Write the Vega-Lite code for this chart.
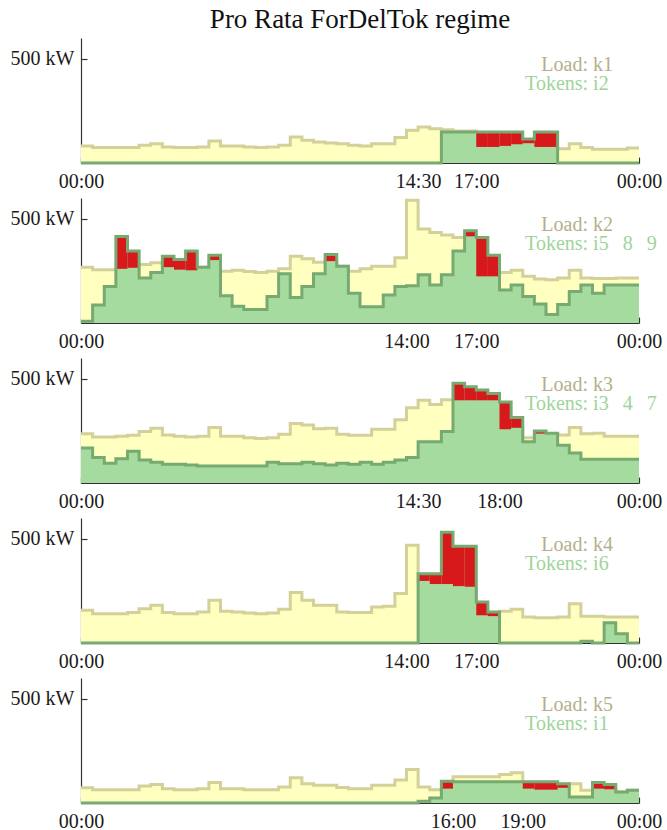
{
  "$schema": "https://vega.github.io/schema/vega-lite/v6.json",
  "padding": {"left": 10, "right": 4, "top": 6, "bottom": 4},
  "background": "white",
  "config": {
    "font": "Liberation Serif",
    "view": {"stroke": null},
    "axis": {"grid": false, "zindex": 1, "labelFont": "Liberation Serif", "labelFontSize": 20, "labelColor": "#1a1a1a", "domainColor": "#333333", "tickColor": "#333333", "tickSize": -6, "labelPadding": 14, "domainWidth": 1.2, "tickWidth": 1.2},
    "axisY": {"labelPadding": 13},
    "title": {"font": "Liberation Serif", "fontSize": 27, "fontWeight": "normal", "color": "#111111", "offset": 4}
  },
  "datasets": {
    "p1": [
      {"hour":0,"end":0.5,"load":82,"tokens":0},{"hour":0.5,"end":1,"load":74,"tokens":0},{"hour":1,"end":1.5,"load":74,"tokens":0},{"hour":1.5,"end":2,"load":74,"tokens":0},
      {"hour":2,"end":2.5,"load":74,"tokens":0},{"hour":2.5,"end":3,"load":85,"tokens":0},{"hour":3,"end":3.5,"load":93,"tokens":0},{"hour":3.5,"end":4,"load":77,"tokens":0},
      {"hour":4,"end":4.5,"load":74,"tokens":0},{"hour":4.5,"end":5,"load":74,"tokens":0},{"hour":5,"end":5.5,"load":77,"tokens":0},{"hour":5.5,"end":6,"load":106,"tokens":0},
      {"hour":6,"end":6.5,"load":82,"tokens":0},{"hour":6.5,"end":7,"load":82,"tokens":0},{"hour":7,"end":7.5,"load":77,"tokens":0},{"hour":7.5,"end":8,"load":74,"tokens":0},
      {"hour":8,"end":8.5,"load":77,"tokens":0},{"hour":8.5,"end":9,"load":85,"tokens":0},{"hour":9,"end":9.5,"load":125,"tokens":0},{"hour":9.5,"end":10,"load":109,"tokens":0},
      {"hour":10,"end":10.5,"load":101,"tokens":0},{"hour":10.5,"end":11,"load":96,"tokens":0},{"hour":11,"end":11.5,"load":93,"tokens":0},{"hour":11.5,"end":12,"load":85,"tokens":0},
      {"hour":12,"end":12.5,"load":82,"tokens":0},{"hour":12.5,"end":13,"load":93,"tokens":0},{"hour":13,"end":13.5,"load":93,"tokens":0},{"hour":13.5,"end":14,"load":122,"tokens":0},
      {"hour":14,"end":14.5,"load":157,"tokens":0},{"hour":14.5,"end":15,"load":173,"tokens":0},{"hour":15,"end":15.5,"load":165,"tokens":0},{"hour":15.5,"end":16,"load":160,"tokens":149},
      {"hour":16,"end":16.5,"load":154,"tokens":149},{"hour":16.5,"end":17,"load":154,"tokens":149},{"hour":17,"end":17.5,"load":77,"tokens":149},{"hour":17.5,"end":18,"load":77,"tokens":149},
      {"hour":18,"end":18.5,"load":82,"tokens":149},{"hour":18.5,"end":19,"load":90,"tokens":149},{"hour":19,"end":19.5,"load":95,"tokens":115},{"hour":19.5,"end":20,"load":77,"tokens":149},
      {"hour":20,"end":20.5,"load":77,"tokens":149},{"hour":20.5,"end":21,"load":69,"tokens":0},{"hour":21,"end":21.5,"load":93,"tokens":0},{"hour":21.5,"end":22,"load":74,"tokens":0},
      {"hour":22,"end":22.5,"load":66,"tokens":0},{"hour":22.5,"end":23,"load":66,"tokens":0},{"hour":23,"end":23.5,"load":66,"tokens":0},{"hour":23.5,"end":24,"load":72,"tokens":0},
      {"hour":24,"end":24,"load":72,"tokens":0}
    ],
    "p2": [
      {"hour":0,"end":0.5,"load":268,"tokens":8},{"hour":0.5,"end":1,"load":256,"tokens":86},{"hour":1,"end":1.5,"load":256,"tokens":175},{"hour":1.5,"end":2,"load":260,"tokens":415},
      {"hour":2,"end":2.5,"load":265,"tokens":346},{"hour":2.5,"end":3,"load":281,"tokens":216},{"hour":3,"end":3.5,"load":289,"tokens":243},{"hour":3.5,"end":4,"load":268,"tokens":321},
      {"hour":4,"end":4.5,"load":256,"tokens":305},{"hour":4.5,"end":5,"load":253,"tokens":346},{"hour":5,"end":5.5,"load":268,"tokens":268},{"hour":5.5,"end":6,"load":302,"tokens":325},
      {"hour":6,"end":6.5,"load":248,"tokens":131},{"hour":6.5,"end":7,"load":253,"tokens":81},{"hour":7,"end":7.5,"load":247,"tokens":65},{"hour":7.5,"end":8,"load":243,"tokens":65},
      {"hour":8,"end":8.5,"load":248,"tokens":127},{"hour":8.5,"end":9,"load":260,"tokens":237},{"hour":9,"end":9.5,"load":321,"tokens":122},{"hour":9.5,"end":10,"load":308,"tokens":175},
      {"hour":10,"end":10.5,"load":292,"tokens":237},{"hour":10.5,"end":11,"load":297,"tokens":329},{"hour":11,"end":11.5,"load":273,"tokens":273},{"hour":11.5,"end":12,"load":248,"tokens":143},
      {"hour":12,"end":12.5,"load":260,"tokens":78},{"hour":12.5,"end":13,"load":273,"tokens":78},{"hour":13,"end":13.5,"load":273,"tokens":135},{"hour":13.5,"end":14,"load":313,"tokens":175},
      {"hour":14,"end":14.5,"load":589,"tokens":179},{"hour":14.5,"end":15,"load":451,"tokens":232},{"hour":15,"end":15.5,"load":435,"tokens":183},{"hour":15.5,"end":16,"load":422,"tokens":232},
      {"hour":16,"end":16.5,"load":411,"tokens":346},{"hour":16.5,"end":17,"load":416,"tokens":443},{"hour":17,"end":17.5,"load":224,"tokens":411},{"hour":17.5,"end":18,"load":224,"tokens":325},
      {"hour":18,"end":18.5,"load":243,"tokens":159},{"hour":18.5,"end":19,"load":253,"tokens":183},{"hour":19,"end":19.5,"load":224,"tokens":127},{"hour":19.5,"end":20,"load":211,"tokens":91},
      {"hour":20,"end":20.5,"load":208,"tokens":41},{"hour":20.5,"end":21,"load":216,"tokens":89},{"hour":21,"end":21.5,"load":253,"tokens":151},{"hour":21.5,"end":22,"load":216,"tokens":183},
      {"hour":22,"end":22.5,"load":214,"tokens":143},{"hour":22.5,"end":23,"load":214,"tokens":183},{"hour":23,"end":23.5,"load":216,"tokens":183},{"hour":23.5,"end":24,"load":216,"tokens":183},
      {"hour":24,"end":24,"load":216,"tokens":183}
    ],
    "p3": [
      {"hour":0,"end":0.5,"load":237,"tokens":168},{"hour":0.5,"end":1,"load":221,"tokens":123},{"hour":1,"end":1.5,"load":221,"tokens":95},{"hour":1.5,"end":2,"load":225,"tokens":116},
      {"hour":2,"end":2.5,"load":229,"tokens":152},{"hour":2.5,"end":3,"load":247,"tokens":111},{"hour":3,"end":3.5,"load":263,"tokens":100},{"hour":3.5,"end":4,"load":230,"tokens":90},
      {"hour":4,"end":4.5,"load":225,"tokens":90},{"hour":4.5,"end":5,"load":221,"tokens":87},{"hour":5,"end":5.5,"load":225,"tokens":82},{"hour":5.5,"end":6,"load":266,"tokens":82},
      {"hour":6,"end":6.5,"load":225,"tokens":82},{"hour":6.5,"end":7,"load":225,"tokens":82},{"hour":7,"end":7.5,"load":217,"tokens":82},{"hour":7.5,"end":8,"load":214,"tokens":82},
      {"hour":8,"end":8.5,"load":217,"tokens":100},{"hour":8.5,"end":9,"load":234,"tokens":92},{"hour":9,"end":9.5,"load":286,"tokens":92},{"hour":9.5,"end":10,"load":278,"tokens":100},
      {"hour":10,"end":10.5,"load":261,"tokens":92},{"hour":10.5,"end":11,"load":263,"tokens":87},{"hour":11,"end":11.5,"load":234,"tokens":95},{"hour":11.5,"end":12,"load":229,"tokens":90},
      {"hour":12,"end":12.5,"load":229,"tokens":100},{"hour":12.5,"end":13,"load":258,"tokens":90},{"hour":13,"end":13.5,"load":258,"tokens":100},{"hour":13.5,"end":14,"load":304,"tokens":111},
      {"hour":14,"end":14.5,"load":361,"tokens":123},{"hour":14.5,"end":15,"load":397,"tokens":198},{"hour":15,"end":15.5,"load":377,"tokens":198},{"hour":15.5,"end":16,"load":400,"tokens":247},
      {"hour":16,"end":16.5,"load":397,"tokens":479},{"hour":16.5,"end":17,"load":397,"tokens":462},{"hour":17,"end":17.5,"load":397,"tokens":446},{"hour":17.5,"end":18,"load":397,"tokens":430},
      {"hour":18,"end":18.5,"load":258,"tokens":389},{"hour":18.5,"end":19,"load":265,"tokens":315},{"hour":19,"end":19.5,"load":217,"tokens":198},{"hour":19.5,"end":20,"load":237,"tokens":250},
      {"hour":20,"end":20.5,"load":234,"tokens":239},{"hour":20.5,"end":21,"load":230,"tokens":181},{"hour":21,"end":21.5,"load":266,"tokens":144},{"hour":21.5,"end":22,"load":237,"tokens":114},
      {"hour":22,"end":22.5,"load":239,"tokens":114},{"hour":22.5,"end":23,"load":225,"tokens":114},{"hour":23,"end":23.5,"load":225,"tokens":114},{"hour":23.5,"end":24,"load":225,"tokens":114},
      {"hour":24,"end":24,"load":225,"tokens":114}
    ],
    "p4": [
      {"hour":0,"end":0.5,"load":157,"tokens":0},{"hour":0.5,"end":1,"load":141,"tokens":0},{"hour":1,"end":1.5,"load":141,"tokens":0},{"hour":1.5,"end":2,"load":141,"tokens":0},
      {"hour":2,"end":2.5,"load":146,"tokens":0},{"hour":2.5,"end":3,"load":165,"tokens":0},{"hour":3,"end":3.5,"load":181,"tokens":0},{"hour":3.5,"end":4,"load":146,"tokens":0},
      {"hour":4,"end":4.5,"load":141,"tokens":0},{"hour":4.5,"end":5,"load":141,"tokens":0},{"hour":5,"end":5.5,"load":149,"tokens":0},{"hour":5.5,"end":6,"load":205,"tokens":0},
      {"hour":6,"end":6.5,"load":152,"tokens":0},{"hour":6.5,"end":7,"load":149,"tokens":0},{"hour":7,"end":7.5,"load":144,"tokens":0},{"hour":7.5,"end":8,"load":141,"tokens":0},
      {"hour":8,"end":8.5,"load":144,"tokens":0},{"hour":8.5,"end":9,"load":162,"tokens":0},{"hour":9,"end":9.5,"load":243,"tokens":0},{"hour":9.5,"end":10,"load":205,"tokens":0},
      {"hour":10,"end":10.5,"load":181,"tokens":0},{"hour":10.5,"end":11,"load":181,"tokens":0},{"hour":11,"end":11.5,"load":149,"tokens":0},{"hour":11.5,"end":12,"load":146,"tokens":0},
      {"hour":12,"end":12.5,"load":146,"tokens":0},{"hour":12.5,"end":13,"load":173,"tokens":0},{"hour":13,"end":13.5,"load":176,"tokens":0},{"hour":13.5,"end":14,"load":238,"tokens":0},
      {"hour":14,"end":14.5,"load":469,"tokens":0},{"hour":14.5,"end":15,"load":298,"tokens":332},{"hour":15,"end":15.5,"load":283,"tokens":332},{"hour":15.5,"end":16,"load":283,"tokens":532},
      {"hour":16,"end":16.5,"load":273,"tokens":464},{"hour":16.5,"end":17,"load":270,"tokens":464},{"hour":17,"end":17.5,"load":133,"tokens":197},{"hour":17.5,"end":18,"load":129,"tokens":149},
      {"hour":18,"end":18.5,"load":152,"tokens":0},{"hour":18.5,"end":19,"load":162,"tokens":0},{"hour":19,"end":19.5,"load":125,"tokens":0},{"hour":19.5,"end":20,"load":121,"tokens":0},
      {"hour":20,"end":20.5,"load":121,"tokens":0},{"hour":20.5,"end":21,"load":125,"tokens":0},{"hour":21,"end":21.5,"load":189,"tokens":0},{"hour":21.5,"end":22,"load":128,"tokens":8},
      {"hour":22,"end":22.5,"load":128,"tokens":0},{"hour":22.5,"end":23,"load":125,"tokens":97},{"hour":23,"end":23.5,"load":125,"tokens":44},{"hour":23.5,"end":24,"load":125,"tokens":0},
      {"hour":24,"end":24,"load":125,"tokens":0}
    ],
    "p5": [
      {"hour":0,"end":0.5,"load":73,"tokens":0},{"hour":0.5,"end":1,"load":64,"tokens":0},{"hour":1,"end":1.5,"load":64,"tokens":0},{"hour":1.5,"end":2,"load":64,"tokens":0},
      {"hour":2,"end":2.5,"load":64,"tokens":0},{"hour":2.5,"end":3,"load":82,"tokens":0},{"hour":3,"end":3.5,"load":89,"tokens":0},{"hour":3.5,"end":4,"load":69,"tokens":0},
      {"hour":4,"end":4.5,"load":64,"tokens":0},{"hour":4.5,"end":5,"load":64,"tokens":0},{"hour":5,"end":5.5,"load":69,"tokens":0},{"hour":5.5,"end":6,"load":98,"tokens":0},
      {"hour":6,"end":6.5,"load":69,"tokens":0},{"hour":6.5,"end":7,"load":69,"tokens":0},{"hour":7,"end":7.5,"load":64,"tokens":0},{"hour":7.5,"end":8,"load":64,"tokens":0},
      {"hour":8,"end":8.5,"load":64,"tokens":0},{"hour":8.5,"end":9,"load":77,"tokens":0},{"hour":9,"end":9.5,"load":121,"tokens":0},{"hour":9.5,"end":10,"load":93,"tokens":0},
      {"hour":10,"end":10.5,"load":85,"tokens":0},{"hour":10.5,"end":11,"load":85,"tokens":0},{"hour":11,"end":11.5,"load":74,"tokens":0},{"hour":11.5,"end":12,"load":69,"tokens":0},
      {"hour":12,"end":12.5,"load":69,"tokens":0},{"hour":12.5,"end":13,"load":85,"tokens":0},{"hour":13,"end":13.5,"load":85,"tokens":0},{"hour":13.5,"end":14,"load":110,"tokens":0},
      {"hour":14,"end":14.5,"load":161,"tokens":0},{"hour":14.5,"end":15,"load":77,"tokens":8},{"hour":15,"end":15.5,"load":64,"tokens":24},{"hour":15.5,"end":16,"load":69,"tokens":105},
      {"hour":16,"end":16.5,"load":126,"tokens":102},{"hour":16.5,"end":17,"load":126,"tokens":102},{"hour":17,"end":17.5,"load":126,"tokens":102},{"hour":17.5,"end":18,"load":126,"tokens":102},
      {"hour":18,"end":18.5,"load":137,"tokens":102},{"hour":18.5,"end":19,"load":145,"tokens":102},{"hour":19,"end":19.5,"load":69,"tokens":102},{"hour":19.5,"end":20,"load":64,"tokens":102},
      {"hour":20,"end":20.5,"load":64,"tokens":102},{"hour":20.5,"end":21,"load":73,"tokens":93},{"hour":21,"end":21.5,"load":93,"tokens":29},{"hour":21.5,"end":22,"load":61,"tokens":29},
      {"hour":22,"end":22.5,"load":69,"tokens":98},{"hour":22.5,"end":23,"load":66,"tokens":89},{"hour":23,"end":23.5,"load":53,"tokens":53},{"hour":23.5,"end":24,"load":61,"tokens":61},
      {"hour":24,"end":24,"load":61,"tokens":61}
    ]
  },
  "vconcat": [
    {
      "title": {"text": "Pro Rata ForDelTok regime", "anchor": "middle"},
      "width": 558, "height": 125,
      "data": {"name": "p1"},
      "layer": [
        {"mark": {"type": "area", "interpolate": "step-after", "color": "#ffffbf"},
         "encoding": {
           "x": {"field": "hour", "type": "quantitative", "title": null, "scale": {"domain": [0, 24], "nice": false, "zero": false}, "axis": {"values": [0, 14.5, 17, 24], "labelExpr": "(floor(datum.value) % 24 < 10 ? '0' : '') + (floor(datum.value) % 24) + ':' + (datum.value % 1 > 0 ? '30' : '00')", "labelFlush": false, "labelOverlap": false}},
           "y": {"field": "load", "type": "quantitative", "title": null, "scale": {"domain": [0, 600], "nice": false}, "axis": {"values": [500], "labelExpr": "datum.value + ' kW'"}}}},
        {"mark": {"type": "line", "interpolate": "step-after", "color": "#d3d09a", "strokeWidth": 3},
         "encoding": {"x": {"field": "hour", "type": "quantitative", "title": null}, "y": {"field": "load", "type": "quantitative", "title": null}}},
        {"mark": {"type": "area", "interpolate": "step-after", "color": "#a6dba0"},
         "encoding": {"x": {"field": "hour", "type": "quantitative", "title": null}, "y": {"field": "tokens", "type": "quantitative", "title": null}}},
        {"transform": [{"filter": "datum.tokens > datum.load + 6"}],
         "mark": {"type": "rect", "color": "#d7191c"},
         "encoding": {"x": {"field": "hour", "type": "quantitative", "title": null}, "x2": {"field": "end"}, "y": {"field": "load", "type": "quantitative", "title": null}, "y2": {"field": "tokens"}}},
        {"mark": {"type": "line", "interpolate": "step-after", "color": "#76aa70", "strokeWidth": 3},
         "encoding": {"x": {"field": "hour", "type": "quantitative", "title": null}, "y": {"field": "tokens", "type": "quantitative", "title": null}}},
        {"data": {"values": [{"label": "Load: k1"}]},
         "mark": {"type": "text", "align": "left", "baseline": "alphabetic", "font": "Liberation Serif", "fontSize": 20, "color": "#b4b08a"},
         "encoding": {"x": {"datum": 19.8, "type": "quantitative"}, "y": {"datum": 440, "type": "quantitative"}, "text": {"field": "label"}}},
        {"data": {"values": [{"label": "Tokens: i2"}]},
         "mark": {"type": "text", "align": "left", "baseline": "alphabetic", "font": "Liberation Serif", "fontSize": 20, "color": "#9fd39b"},
         "encoding": {"x": {"datum": 19.1, "type": "quantitative"}, "y": {"datum": 350, "type": "quantitative"}, "text": {"field": "label"}}}
      ]
    },
    {
      "width": 558, "height": 125,
      "data": {"name": "p2"},
      "layer": [
        {"mark": {"type": "area", "interpolate": "step-after", "color": "#ffffbf"},
         "encoding": {
           "x": {"field": "hour", "type": "quantitative", "title": null, "scale": {"domain": [0, 24], "nice": false, "zero": false}, "axis": {"values": [0, 14, 17, 24], "labelExpr": "(floor(datum.value) % 24 < 10 ? '0' : '') + (floor(datum.value) % 24) + ':' + (datum.value % 1 > 0 ? '30' : '00')", "labelFlush": false, "labelOverlap": false}},
           "y": {"field": "load", "type": "quantitative", "title": null, "scale": {"domain": [0, 600], "nice": false}, "axis": {"values": [500], "labelExpr": "datum.value + ' kW'"}}}},
        {"mark": {"type": "line", "interpolate": "step-after", "color": "#d3d09a", "strokeWidth": 3},
         "encoding": {"x": {"field": "hour", "type": "quantitative", "title": null}, "y": {"field": "load", "type": "quantitative", "title": null}}},
        {"mark": {"type": "area", "interpolate": "step-after", "color": "#a6dba0"},
         "encoding": {"x": {"field": "hour", "type": "quantitative", "title": null}, "y": {"field": "tokens", "type": "quantitative", "title": null}}},
        {"transform": [{"filter": "datum.tokens > datum.load + 6"}],
         "mark": {"type": "rect", "color": "#d7191c"},
         "encoding": {"x": {"field": "hour", "type": "quantitative", "title": null}, "x2": {"field": "end"}, "y": {"field": "load", "type": "quantitative", "title": null}, "y2": {"field": "tokens"}}},
        {"mark": {"type": "line", "interpolate": "step-after", "color": "#76aa70", "strokeWidth": 3},
         "encoding": {"x": {"field": "hour", "type": "quantitative", "title": null}, "y": {"field": "tokens", "type": "quantitative", "title": null}}},
        {"data": {"values": [{"label": "Load: k2"}]},
         "mark": {"type": "text", "align": "left", "baseline": "alphabetic", "font": "Liberation Serif", "fontSize": 20, "color": "#b4b08a"},
         "encoding": {"x": {"datum": 19.8, "type": "quantitative"}, "y": {"datum": 440, "type": "quantitative"}, "text": {"field": "label"}}},
        {"data": {"values": [{"label": "Tokens: i5\u00a0\u00a0\u20098\u00a0\u00a0\u20099"}]},
         "mark": {"type": "text", "align": "left", "baseline": "alphabetic", "font": "Liberation Serif", "fontSize": 20, "color": "#9fd39b"},
         "encoding": {"x": {"datum": 19.1, "type": "quantitative"}, "y": {"datum": 350, "type": "quantitative"}, "text": {"field": "label"}}}
      ]
    },
    {
      "width": 558, "height": 125,
      "data": {"name": "p3"},
      "layer": [
        {"mark": {"type": "area", "interpolate": "step-after", "color": "#ffffbf"},
         "encoding": {
           "x": {"field": "hour", "type": "quantitative", "title": null, "scale": {"domain": [0, 24], "nice": false, "zero": false}, "axis": {"values": [0, 14.5, 18, 24], "labelExpr": "(floor(datum.value) % 24 < 10 ? '0' : '') + (floor(datum.value) % 24) + ':' + (datum.value % 1 > 0 ? '30' : '00')", "labelFlush": false, "labelOverlap": false}},
           "y": {"field": "load", "type": "quantitative", "title": null, "scale": {"domain": [0, 600], "nice": false}, "axis": {"values": [500], "labelExpr": "datum.value + ' kW'"}}}},
        {"mark": {"type": "line", "interpolate": "step-after", "color": "#d3d09a", "strokeWidth": 3},
         "encoding": {"x": {"field": "hour", "type": "quantitative", "title": null}, "y": {"field": "load", "type": "quantitative", "title": null}}},
        {"mark": {"type": "area", "interpolate": "step-after", "color": "#a6dba0"},
         "encoding": {"x": {"field": "hour", "type": "quantitative", "title": null}, "y": {"field": "tokens", "type": "quantitative", "title": null}}},
        {"transform": [{"filter": "datum.tokens > datum.load + 6"}],
         "mark": {"type": "rect", "color": "#d7191c"},
         "encoding": {"x": {"field": "hour", "type": "quantitative", "title": null}, "x2": {"field": "end"}, "y": {"field": "load", "type": "quantitative", "title": null}, "y2": {"field": "tokens"}}},
        {"mark": {"type": "line", "interpolate": "step-after", "color": "#76aa70", "strokeWidth": 3},
         "encoding": {"x": {"field": "hour", "type": "quantitative", "title": null}, "y": {"field": "tokens", "type": "quantitative", "title": null}}},
        {"data": {"values": [{"label": "Load: k3"}]},
         "mark": {"type": "text", "align": "left", "baseline": "alphabetic", "font": "Liberation Serif", "fontSize": 20, "color": "#b4b08a"},
         "encoding": {"x": {"datum": 19.8, "type": "quantitative"}, "y": {"datum": 440, "type": "quantitative"}, "text": {"field": "label"}}},
        {"data": {"values": [{"label": "Tokens: i3\u00a0\u00a0\u20094\u00a0\u00a0\u20097"}]},
         "mark": {"type": "text", "align": "left", "baseline": "alphabetic", "font": "Liberation Serif", "fontSize": 20, "color": "#9fd39b"},
         "encoding": {"x": {"datum": 19.1, "type": "quantitative"}, "y": {"datum": 350, "type": "quantitative"}, "text": {"field": "label"}}}
      ]
    },
    {
      "width": 558, "height": 125,
      "data": {"name": "p4"},
      "layer": [
        {"mark": {"type": "area", "interpolate": "step-after", "color": "#ffffbf"},
         "encoding": {
           "x": {"field": "hour", "type": "quantitative", "title": null, "scale": {"domain": [0, 24], "nice": false, "zero": false}, "axis": {"values": [0, 14, 17, 24], "labelExpr": "(floor(datum.value) % 24 < 10 ? '0' : '') + (floor(datum.value) % 24) + ':' + (datum.value % 1 > 0 ? '30' : '00')", "labelFlush": false, "labelOverlap": false}},
           "y": {"field": "load", "type": "quantitative", "title": null, "scale": {"domain": [0, 600], "nice": false}, "axis": {"values": [500], "labelExpr": "datum.value + ' kW'"}}}},
        {"mark": {"type": "line", "interpolate": "step-after", "color": "#d3d09a", "strokeWidth": 3},
         "encoding": {"x": {"field": "hour", "type": "quantitative", "title": null}, "y": {"field": "load", "type": "quantitative", "title": null}}},
        {"mark": {"type": "area", "interpolate": "step-after", "color": "#a6dba0"},
         "encoding": {"x": {"field": "hour", "type": "quantitative", "title": null}, "y": {"field": "tokens", "type": "quantitative", "title": null}}},
        {"transform": [{"filter": "datum.tokens > datum.load + 6"}],
         "mark": {"type": "rect", "color": "#d7191c"},
         "encoding": {"x": {"field": "hour", "type": "quantitative", "title": null}, "x2": {"field": "end"}, "y": {"field": "load", "type": "quantitative", "title": null}, "y2": {"field": "tokens"}}},
        {"mark": {"type": "line", "interpolate": "step-after", "color": "#76aa70", "strokeWidth": 3},
         "encoding": {"x": {"field": "hour", "type": "quantitative", "title": null}, "y": {"field": "tokens", "type": "quantitative", "title": null}}},
        {"data": {"values": [{"label": "Load: k4"}]},
         "mark": {"type": "text", "align": "left", "baseline": "alphabetic", "font": "Liberation Serif", "fontSize": 20, "color": "#b4b08a"},
         "encoding": {"x": {"datum": 19.8, "type": "quantitative"}, "y": {"datum": 440, "type": "quantitative"}, "text": {"field": "label"}}},
        {"data": {"values": [{"label": "Tokens: i6"}]},
         "mark": {"type": "text", "align": "left", "baseline": "alphabetic", "font": "Liberation Serif", "fontSize": 20, "color": "#9fd39b"},
         "encoding": {"x": {"datum": 19.1, "type": "quantitative"}, "y": {"datum": 350, "type": "quantitative"}, "text": {"field": "label"}}}
      ]
    },
    {
      "width": 558, "height": 125,
      "data": {"name": "p5"},
      "layer": [
        {"mark": {"type": "area", "interpolate": "step-after", "color": "#ffffbf"},
         "encoding": {
           "x": {"field": "hour", "type": "quantitative", "title": null, "scale": {"domain": [0, 24], "nice": false, "zero": false}, "axis": {"values": [0, 16, 19, 24], "labelExpr": "(floor(datum.value) % 24 < 10 ? '0' : '') + (floor(datum.value) % 24) + ':' + (datum.value % 1 > 0 ? '30' : '00')", "labelFlush": false, "labelOverlap": false}},
           "y": {"field": "load", "type": "quantitative", "title": null, "scale": {"domain": [0, 600], "nice": false}, "axis": {"values": [500], "labelExpr": "datum.value + ' kW'"}}}},
        {"mark": {"type": "line", "interpolate": "step-after", "color": "#d3d09a", "strokeWidth": 3},
         "encoding": {"x": {"field": "hour", "type": "quantitative", "title": null}, "y": {"field": "load", "type": "quantitative", "title": null}}},
        {"mark": {"type": "area", "interpolate": "step-after", "color": "#a6dba0"},
         "encoding": {"x": {"field": "hour", "type": "quantitative", "title": null}, "y": {"field": "tokens", "type": "quantitative", "title": null}}},
        {"transform": [{"filter": "datum.tokens > datum.load + 6"}],
         "mark": {"type": "rect", "color": "#d7191c"},
         "encoding": {"x": {"field": "hour", "type": "quantitative", "title": null}, "x2": {"field": "end"}, "y": {"field": "load", "type": "quantitative", "title": null}, "y2": {"field": "tokens"}}},
        {"mark": {"type": "line", "interpolate": "step-after", "color": "#76aa70", "strokeWidth": 3},
         "encoding": {"x": {"field": "hour", "type": "quantitative", "title": null}, "y": {"field": "tokens", "type": "quantitative", "title": null}}},
        {"data": {"values": [{"label": "Load: k5"}]},
         "mark": {"type": "text", "align": "left", "baseline": "alphabetic", "font": "Liberation Serif", "fontSize": 20, "color": "#b4b08a"},
         "encoding": {"x": {"datum": 19.8, "type": "quantitative"}, "y": {"datum": 440, "type": "quantitative"}, "text": {"field": "label"}}},
        {"data": {"values": [{"label": "Tokens: i1"}]},
         "mark": {"type": "text", "align": "left", "baseline": "alphabetic", "font": "Liberation Serif", "fontSize": 20, "color": "#9fd39b"},
         "encoding": {"x": {"datum": 19.1, "type": "quantitative"}, "y": {"datum": 350, "type": "quantitative"}, "text": {"field": "label"}}}
      ]
    }
  ],
  "spacing": 35,
  "bounds": "flush"
}
